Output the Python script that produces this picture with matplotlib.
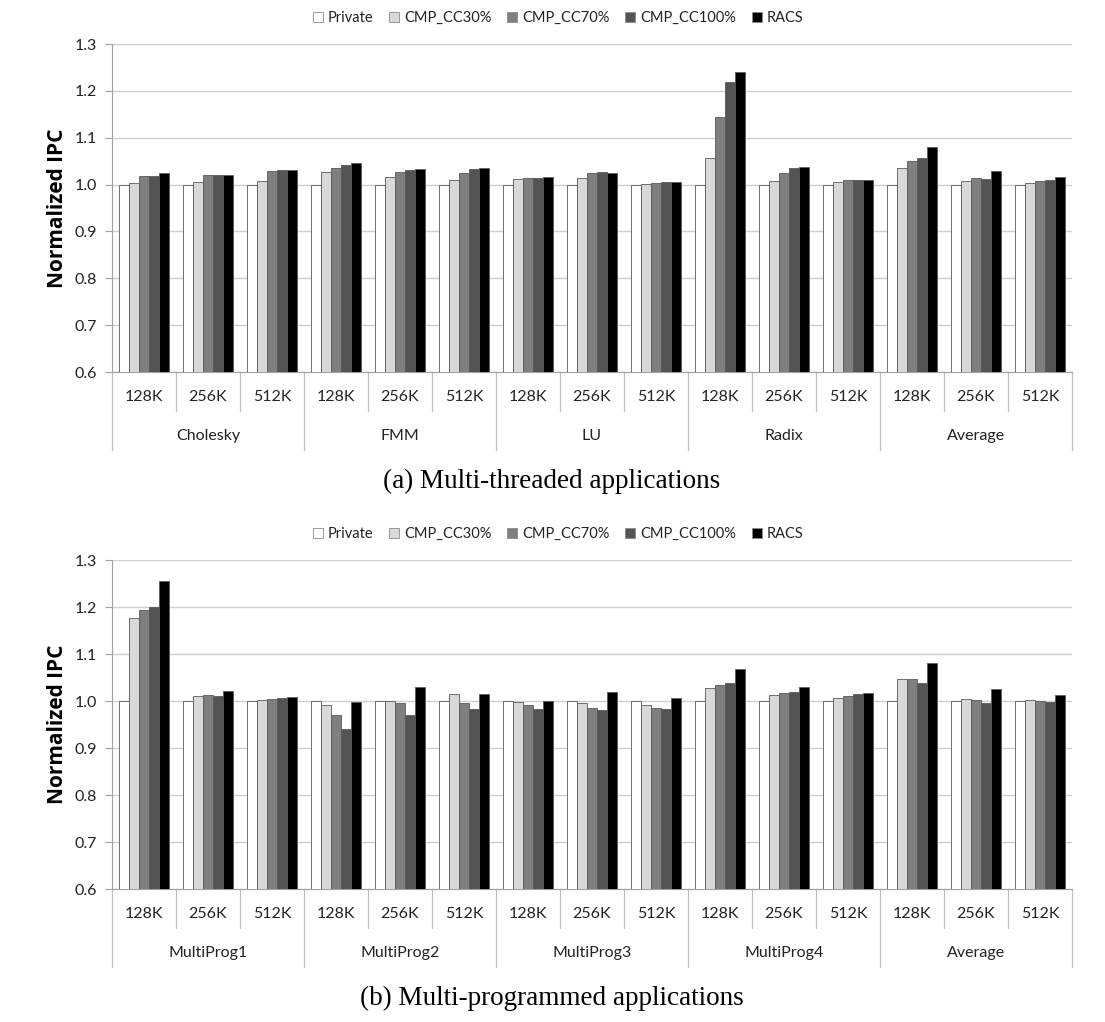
import numpy as np
import matplotlib.pyplot as plt
from matplotlib import transforms
from matplotlib.patches import Patch

plt.rcParams['font.family'] = ['Lato', 'DejaVu Sans']

# 数据
series = ['Private', 'CMP_CC30%', 'CMP_CC70%', 'CMP_CC100%', 'RACS']
colors = ['#ffffff', '#d9d9d9', '#7f7f7f', '#545454', '#000000']
sizes = ['128K', '256K', '512K']
groups_a = ['Cholesky', 'FMM', 'LU', 'Radix', 'Average']
groups_b = ['MultiProg1', 'MultiProg2', 'MultiProg3', 'MultiProg4', 'Average']

# (a) 每行为一个 series，按 group x size 顺序
private_a = [1.0] * 15
cc30_a = [1.004, 1.006, 1.008, 1.026, 1.016, 1.010, 1.011, 1.014, 1.001,
          1.056, 1.008, 1.006, 1.035, 1.008, 1.004]
cc70_a = [1.019, 1.020, 1.029, 1.035, 1.027, 1.025, 1.014, 1.024, 1.003,
          1.145, 1.025, 1.009, 1.050, 1.013, 1.008]
cc100_a = [1.019, 1.020, 1.032, 1.042, 1.031, 1.034, 1.015, 1.026, 1.005,
           1.219, 1.035, 1.009, 1.056, 1.012, 1.009]
racs_a = [1.024, 1.021, 1.032, 1.045, 1.034, 1.035, 1.017, 1.025, 1.006,
          1.240, 1.038, 1.010, 1.080, 1.028, 1.017]

# (b)
private_b = [1.0] * 15
cc30_b = [1.177, 1.011, 1.002, 0.992, 1.001, 1.014, 0.998, 0.995, 0.991,
          1.027, 1.012, 1.007, 1.047, 1.004, 1.003]
cc70_b = [1.194, 1.012, 1.004, 0.970, 0.996, 0.995, 0.992, 0.985, 0.986,
          1.034, 1.017, 1.011, 1.047, 1.002, 0.999]
cc100_b = [1.199, 1.011, 1.006, 0.941, 0.971, 0.984, 0.984, 0.980, 0.982,
           1.038, 1.020, 1.015, 1.039, 0.995, 0.997]
racs_b = [1.255, 1.021, 1.008, 0.997, 1.029, 1.014, 1.001, 1.019, 1.006,
          1.068, 1.030, 1.017, 1.080, 1.025, 1.012]

data_a = [private_a, cc30_a, cc70_a, cc100_a, racs_a]
data_b = [private_b, cc30_b, cc70_b, cc100_b, racs_b]

W, H = 1105, 1022
fig = plt.figure(figsize=(W / 100, H / 100), dpi=100)


def draw(ax, data, groups, caption, ax_h_px):
    n = len(groups) * len(sizes)
    x = np.arange(n)
    bw = 0.157
    for i, vals in enumerate(data):
        ax.bar(x + (i - 2) * bw, np.array(vals) - 0.6, bw, bottom=0.6,
               color=colors[i], edgecolor='#5a5a5a', linewidth=0.6, zorder=3)
    ax.set_xlim(-0.5, n - 0.5)
    ax.set_ylim(0.6, 1.3)
    ax.set_yticks(np.arange(0.6, 1.31, 0.1))
    ax.set_yticklabels(['%.1f' % v for v in np.arange(0.6, 1.31, 0.1)])
    ax.yaxis.grid(True, color='#cfcfcf', linewidth=1.0)
    ax.set_axisbelow(True)
    for s in ['top', 'right']:
        ax.spines[s].set_visible(False)
    ax.spines['left'].set_color('#a0a0a0')
    ax.spines['bottom'].set_color('#a0a0a0')
    ax.tick_params(axis='y', length=5, color='#a0a0a0', labelsize=11.5,
                   labelcolor='#222222', pad=6)
    ax.set_xticks([])
    ax.set_ylabel('Normalized IPC', fontsize=15, fontweight='bold',
                  family=['Open Sans', 'DejaVu Sans'])
    ax.yaxis.set_label_coords(-44 / 960, 0.5)

    trans = transforms.blended_transform_factory(ax.transData, ax.transAxes)
    px = lambda p: -p / ax_h_px
    # 分隔线和标签
    for k in range(n + 1):
        big = (k % 3 == 0)
        ax.plot([k - 0.5, k - 0.5], [0, px(78 if big else 39)], transform=trans,
                color='#c0c0c0', linewidth=0.9, clip_on=False)
    for k in range(n):
        ax.text(k, px(25), sizes[k % 3], transform=trans, ha='center',
                va='center', fontsize=11.5, color='#222222')
    for g, name in enumerate(groups):
        ax.text(g * 3 + 1, px(64), name, transform=trans, ha='center',
                va='center', fontsize=11.5, color='#222222')
    # 图注
    ax.text((552 - 112) / 960, px(109), caption, transform=ax.transAxes,
            ha='center', va='center', fontsize=19.5, family=['Liberation Serif'])


ax1 = fig.add_axes([112 / W, 1 - 372 / H, 960 / W, 328 / H])
draw(ax1, data_a, groups_a, '(a) Multi-threaded applications', 328)
ax2 = fig.add_axes([112 / W, 1 - 889 / H, 960 / W, 329 / H])
draw(ax2, data_b, groups_b, '(b) Multi-programmed applications', 329)

handles = [Patch(facecolor=c, edgecolor='#8a8a8a', linewidth=0.6) for c in colors]
for ypix in [18, 534]:
    fig.legend(handles, series, loc='center', bbox_to_anchor=(558 / W, 1 - ypix / H),
               ncol=5, frameon=False, fontsize=10.5, handlelength=0.7,
               handleheight=0.7, handletextpad=0.3, columnspacing=1.1,
               labelcolor='#222222')

fig.savefig('out.png', dpi=100)
